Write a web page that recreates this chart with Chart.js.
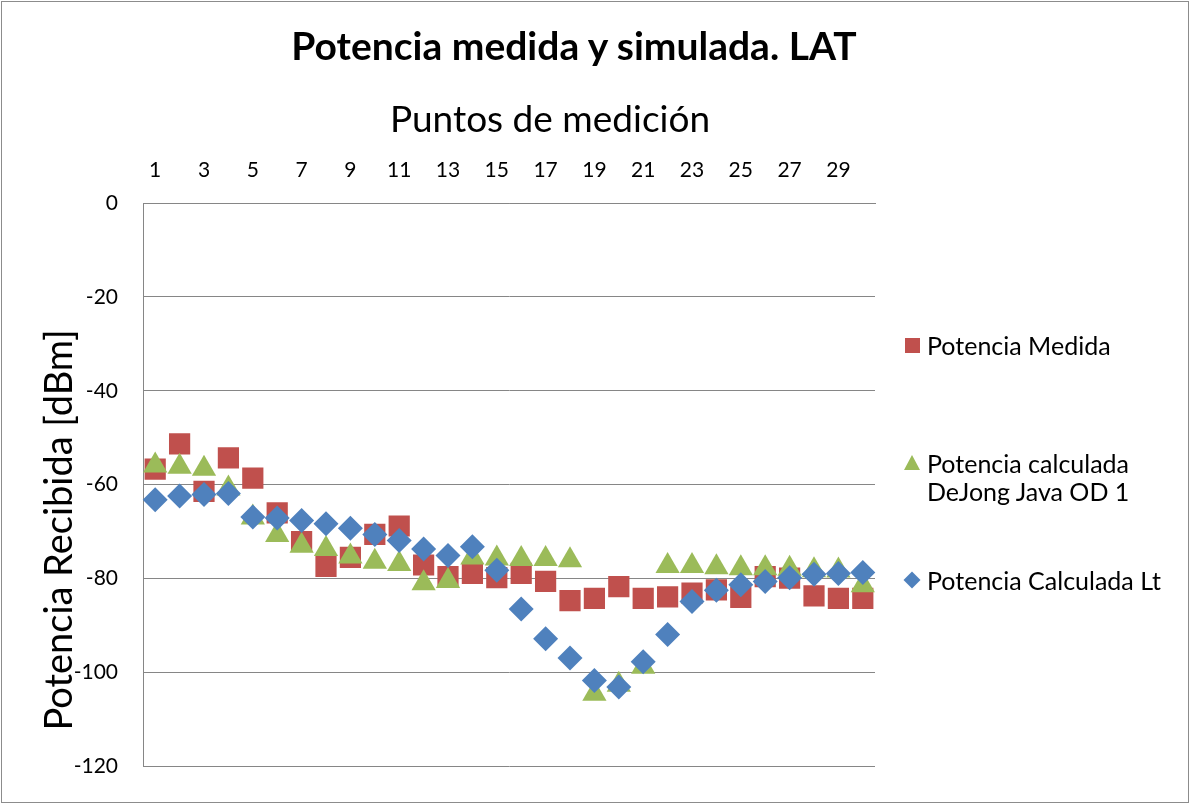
<!DOCTYPE html>
<html>
<head>
<meta charset="utf-8">
<script src="https://cdn.jsdelivr.net/npm/chart.js@4.4.1/dist/chart.umd.min.js"></script>
<style>
  body { margin: 0; background: #fff; font-family: Lato, sans-serif; color: #000; }
  #wrap { position: relative; width: 1190px; height: 804px; }
  #frame { position: absolute; left: 1px; top: 1px; width: 1188px; height: 802px; box-sizing: border-box; border: 1px solid #8c8c8c; pointer-events: none; }
  .txt { position: absolute; white-space: nowrap; transform: translate(-50%, -50%); }
  #title { left: 574px; top: 45px; font: bold 39px Lato, sans-serif; }
  #xtitle { left: 550px; top: 117px; font: 37px Lato, sans-serif; }
  #ytitle { left: 57px; top: 530px; font: 38px Lato, sans-serif; transform: translate(-50%, -50%) rotate(-90deg); }
  .leg { position: absolute; font: 25px Lato, sans-serif; line-height: 28px; white-space: nowrap; }
  .mk { position: absolute; }
</style>
</head>
<body>
<div id="wrap">
  <canvas id="chart"></canvas>
  <div id="frame"></div>
  <div class="txt" id="title">Potencia medida y simulada. LAT</div>
  <div class="txt" id="xtitle">Puntos de medición</div>
  <div class="txt" id="ytitle">Potencia Recibida [dBm]</div>

  <div class="mk" style="left:905px;top:338px;width:15px;height:15px;background:#C0504D"></div>
  <div class="leg" style="left:927px;top:331px">Potencia Medida</div>

  <div class="mk" style="left:904px;top:455px;width:0;height:0;border-left:8px solid transparent;border-right:8px solid transparent;border-bottom:15px solid #9BBB59"></div>
  <div class="leg" style="left:927px;top:449px">Potencia calculada<br>DeJong Java OD 1</div>

  <div class="mk" style="left:906px;top:574px;width:12px;height:12px;background:#4F81BD;transform:rotate(45deg)"></div>
  <div class="leg" style="left:927px;top:566px">Potencia Calculada Lt</div>
</div>
<script>
const puntos = ["1", "2", "3", "4", "5", "6", "7", "8", "9", "10",
  "11", "12", "13", "14", "15", "16", "17", "18", "19", "20",
  "21", "22", "23", "24", "25", "26", "27", "28", "29", "30"];

const potenciaMedida = [-56.7, -51.3, -61.4, -54.3, -58.6, -66.0, -72.1, -77.4, -75.5, -70.6,
  -68.8, -77.1, -79.6, -78.9, -79.8, -78.9, -80.6, -84.7, -84.2, -81.7,
  -84.2, -83.9, -83.1, -82.4, -84.0, -79.6, -79.9, -83.7, -84.2, -84.2];

const potenciaDeJong = [-55.9, -56.2, -56.6, -60.8, -67.0, -70.7, -73.0, -73.7, -75.3, -76.4,
  -76.9, -81.0, -80.5, -75.5, -75.7, -75.8, -75.8, -76.1, -104.5, -102.6,
  -98.8, -77.3, -77.3, -77.6, -77.8, -77.8, -77.9, -78.2, -78.3, -81.4];

const potenciaLt = [-63.2, -62.4, -62.1, -61.9, -66.9, -67.1, -67.6, -68.3, -69.3, -70.6,
  -71.9, -73.7, -75.1, -73.2, -78.2, -86.5, -92.8, -96.9, -101.7, -103.1,
  -97.7, -91.9, -84.9, -82.5, -81.3, -80.6, -79.8, -79.1, -78.9, -78.7];

const yMin = -120;
const yMax = 0;
const yStep = 20;

Chart.defaults.font.family = "Lato, sans-serif";
Chart.defaults.color = "#000";

const canvas = document.getElementById("chart");

new Chart(canvas, {
  type: "line",
  data: {
    labels: puntos,
    datasets: [
      {
        label: "Potencia Medida",
        data: potenciaMedida,
        showLine: false,
        pointStyle: "rect",
        pointRadius: 15,
        pointBackgroundColor: "#C0504D",
        pointBorderColor: "#C0504D",
        pointBorderWidth: 0,
        order: 3,
      },
      {
        label: "Potencia calculada DeJong Java OD 1",
        data: potenciaDeJong,
        showLine: false,
        pointStyle: "triangle",
        pointRadius: 14,
        pointBackgroundColor: "#9BBB59",
        pointBorderColor: "#9BBB59",
        pointBorderWidth: 0,
        order: 2,
      },
      {
        label: "Potencia Calculada Lt",
        data: potenciaLt,
        showLine: false,
        pointStyle: "rectRot",
        pointRadius: 12.5,
        pointBackgroundColor: "#4F81BD",
        pointBorderColor: "#4F81BD",
        pointBorderWidth: 0,
        order: 1,
      },
    ],
  },
  options: {
    responsive: true,
    maintainAspectRatio: false,
    animation: false,
    layout: {
      padding: { left: 0, top: 0, right: 315, bottom: 35 },
    },
    plugins: {
      legend: { display: false },
      title: { display: false },
      tooltip: { enabled: false },
    },
    scales: {
      x: {
        position: "top",
        offset: true,
        grid: { display: false, drawTicks: false },
        border: { display: true, color: "#868686" },
        ticks: {
          autoSkip: false,
          maxRotation: 0,
          padding: 20,
          font: { size: 21 },
          callback: function (value, index) {
            return index % 2 === 0 ? this.getLabelForValue(value) : "";
          },
        },
        afterFit: (scale) => { scale.height = 203; },
      },
      y: {
        min: yMin,
        max: yMax,
        grid: { color: "#868686", drawTicks: false },
        border: { display: true, color: "#868686" },
        ticks: {
          stepSize: yStep,
          padding: 25,
          font: { size: 21 },
        },
        afterFit: (scale) => { scale.width = 143; },
      },
    },
  },
});
</script>
</body>
</html>
